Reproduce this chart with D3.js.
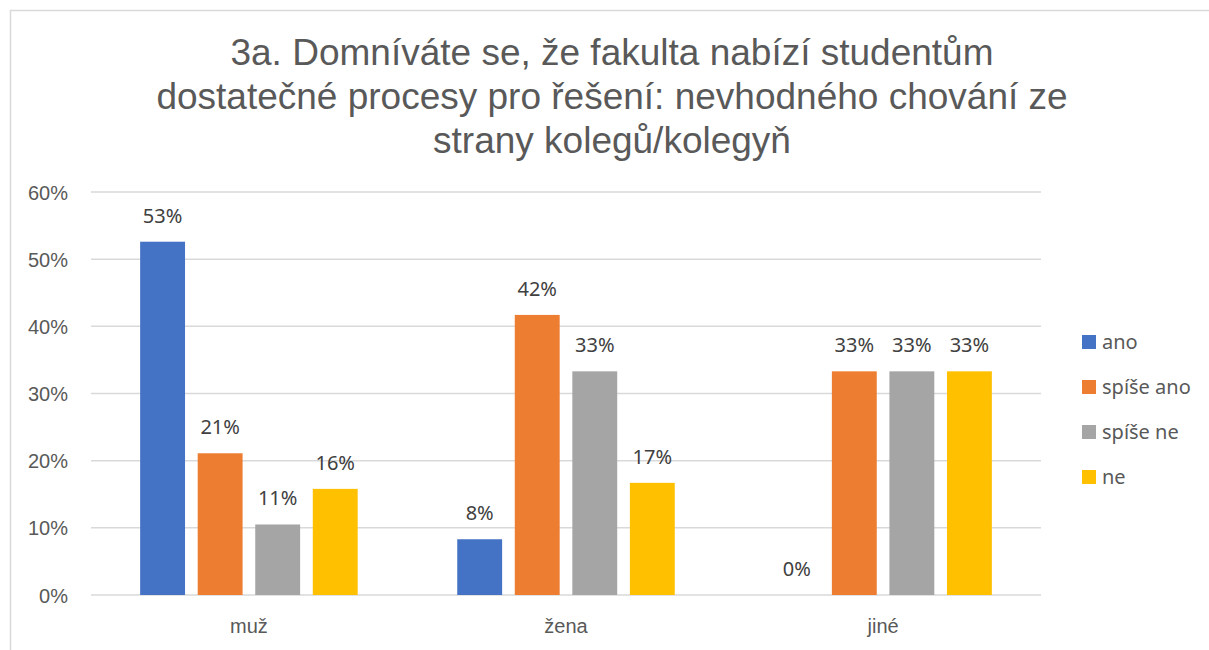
<!DOCTYPE html>
<meta charset="utf-8">
<style>
  body { margin: 0; background: #fff; }
  svg { display: block; font-family: 'Noto Sans', sans-serif; }
  .title { font-family: 'Liberation Sans', Arial, sans-serif; font-size: 37px; fill: #595959; }
  .tick text { font-size: 20px; fill: #595959; }
  .lbl { font-size: 20px; fill: #404040; }
  .leg { font-size: 20px; fill: #595959; }
</style>
<script src="https://d3js.org/d3.v7.min.js"></script>
<div id="chart"></div>
<script>
// data
var groups = ["muž", "žena", "jiné"];
var series = ["ano", "spíše ano", "spíše ne", "ne"];
var colors = ["#4472c4", "#ed7d31", "#a5a5a5", "#ffc000"];
var ano      = [0.526, 0.083, 0.0];
var spiseAno = [0.211, 0.417, 0.333];
var spiseNe  = [0.105, 0.333, 0.333];
var ne       = [0.158, 0.167, 0.333];
var yTicks = [0, 0.1, 0.2, 0.3, 0.4, 0.5, 0.6];
var titleLines = ["3a. Domníváte se, že fakulta nabízí studentům",
                  "dostatečné procesy pro řešení: nevhodného chování ze",
                  "strany kolegů/kolegyň"];

var values = [ano, spiseAno, spiseNe, ne];

var W = 1209, H = 650;
var margin = {top: 192, right: 168, bottom: 55, left: 91};

var svg = d3.select("#chart").append("svg")
    .attr("width", W).attr("height", H);

// chart frame
svg.append("path")
    .attr("d", "M10.5," + H + "V10.5H" + W)
    .attr("fill", "none").attr("stroke", "#d9d9d9").attr("stroke-width", 1.5);

svg.selectAll("text.title")
  .data(titleLines)
  .enter().append("text")
    .attr("class", "title")
    .attr("x", 612)
    .attr("y", function(d, i) { return 65 + i * 44; })
    .attr("text-anchor", "middle")
    .text(function(d) { return d; });

var x0 = d3.scaleBand().domain(groups)
    .range([margin.left, W - margin.right])
    .paddingInner(0.314).paddingOuter(0.155);
var x1 = d3.scaleBand().domain(series)
    .range([0, x0.bandwidth()]).paddingInner(0.22);
var y = d3.scaleLinear().domain([0, 0.6])
    .range([H - margin.bottom, margin.top]);

// gridlines
svg.append("g").selectAll("line")
  .data(yTicks).enter().append("line")
    .attr("x1", margin.left).attr("x2", W - margin.right)
    .attr("y1", function(d) { return y(d); })
    .attr("y2", function(d) { return y(d); })
    .attr("stroke", "#d9d9d9").attr("stroke-width", 1.5);

// y axis
var yAxis = svg.append("g")
    .attr("transform", "translate(" + (margin.left - 23) + ",0)")
    .call(d3.axisLeft(y).tickValues(yTicks).tickFormat(d3.format(".0%")).tickSize(0).tickPadding(0));
yAxis.select(".domain").remove();
yAxis.selectAll("text").attr("dy", "0.35em");

// x axis labels
var xAxis = svg.append("g")
    .attr("transform", "translate(0," + (H - margin.bottom) + ")")
    .call(d3.axisBottom(x0).tickSize(0).tickPadding(0));
xAxis.select(".domain").remove();
xAxis.selectAll("text").attr("y", 38).attr("dy", null);

// bars
var g = svg.append("g").selectAll("g")
  .data(groups).enter().append("g")
    .attr("transform", function(d) { return "translate(" + x0(d) + ",0)"; });

g.selectAll("rect")
  .data(function(d, gi) { return series.map(function(s, si) { return {s: s, v: values[si][gi], c: colors[si]}; }); })
  .enter().append("rect")
    .attr("x", function(d) { return x1(d.s); })
    .attr("y", function(d) { return y(d.v); })
    .attr("width", x1.bandwidth())
    .attr("height", function(d) { return y(0) - y(d.v); })
    .attr("fill", function(d) { return d.c; });

g.selectAll("text")
  .data(function(d, gi) { return series.map(function(s, si) { return {s: s, v: values[si][gi]}; }); })
  .enter().append("text")
    .attr("class", "lbl")
    .attr("x", function(d) { return x1(d.s) + x1.bandwidth() / 2; })
    .attr("y", function(d) { return y(d.v) - 19; })
    .attr("text-anchor", "middle")
    .text(function(d) { return d3.format(".0%")(d.v); });

// legend
var leg = svg.append("g").selectAll("g")
  .data(series).enter().append("g")
    .attr("transform", function(d, i) { return "translate(1082," + (342 + i * 45) + ")"; });
leg.append("rect")
    .attr("x", 0).attr("y", -7).attr("width", 14).attr("height", 14)
    .attr("fill", function(d, i) { return colors[i]; });
leg.append("text")
    .attr("class", "leg")
    .attr("x", 20).attr("dy", "0.35em")
    .text(function(d) { return d; });
</script>
